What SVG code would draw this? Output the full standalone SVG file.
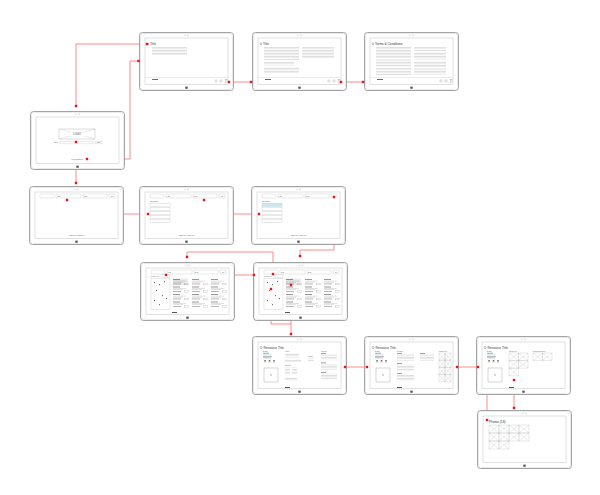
<svg xmlns="http://www.w3.org/2000/svg" xmlns:xlink="http://www.w3.org/1999/xlink" width="600" height="495" viewBox="0 0 600 495">
<style>
.fr{fill:#fff;stroke:#9a9a9a;stroke-width:0.9}
.fi{fill:none;stroke:#d6d6d6;stroke-width:0.5}
.sc{fill:#fff;stroke:#c4c4c4;stroke-width:0.5}
.fld{fill:#fff;stroke:#c0c0c0;stroke-width:0.35}
.t{font-family:"Liberation Sans",Arial,sans-serif;fill:#333}
.h{font-size:3.2px}
.s{font-size:1.5px;fill:#555}
.tx{fill:url(#tx)}
.g{fill:#c4c4c4}
.d{fill:#8a8a8a}
.cn{fill:none;stroke:#ff8080;stroke-width:0.9}
.dt{fill:#e8141c}
.xl{stroke:#c2c2c2;stroke-width:0.35;fill:none}
</style>
<defs>
<pattern id="tx" width="6" height="1.5" patternUnits="userSpaceOnUse"><rect width="6" height="0.45" fill="#c2c2c2"/></pattern>
<g id="frame">
<rect x="0.5" y="0.5" width="94" height="58" rx="3" class="fr"/>
<rect x="1.5" y="1.5" width="92" height="56" rx="2.4" class="fi"/>
<rect x="6" y="6" width="83" height="46.5" class="sc"/>
<circle cx="46" cy="3.3" r="0.45" fill="#777"/>
<circle cx="49" cy="3.3" r="0.45" fill="none" stroke="#999" stroke-width="0.3"/>
<rect x="46.3" y="54.6" width="2.4" height="2.2" fill="#555"/>
</g>
<g id="appbar">
<line x1="6" y1="45.5" x2="89" y2="45.5" stroke="#ccc" stroke-width="0.4"/>
<rect x="13" y="47" width="6" height="0.8" fill="#444"/>
<circle cx="77" cy="49" r="1.2" fill="none" stroke="#888" stroke-width="0.3"/>
<circle cx="82" cy="49" r="1.2" fill="none" stroke="#888" stroke-width="0.3"/>
<rect x="86.2" y="47.6" width="1.8" height="2.6" fill="none" stroke="#888" stroke-width="0.3"/>
</g>
<g id="xb">
<rect x="0" y="0" width="10" height="8" class="xl" vector-effect="non-scaling-stroke"/>
<path d="M0 0L10 8M10 0L0 8" class="xl" vector-effect="non-scaling-stroke"/>
</g>
<g id="hdr">
<rect x="11" y="8" width="14" height="4" rx="1" class="fld"/>
<rect x="27" y="8" width="25" height="4" class="fld"/>
<text x="28" y="10.6" class="t s">Find:</text>
<rect x="54" y="8" width="24" height="4" class="fld"/>
<text x="55" y="10.6" class="t s">Near:</text>
<rect x="80" y="8" width="6" height="4" class="fld"/>
<text x="83" y="10.6" class="t s" text-anchor="middle">Go</text>
</g>
<g id="foot">
<text x="47.5" y="49.5" class="t s" text-anchor="middle">ABOUT US | CONTACT</text>
</g>
<g id="ri">
<rect x="0" y="0" width="7" height="1" fill="#999"/>
<rect x="0" y="1.8" width="13" height="0.5" class="g"/>
<rect x="0" y="2.9" width="10" height="0.5" class="g"/>
<rect x="0" y="4.6" width="8" height="0.7" fill="#999"/>
<rect x="11.5" y="4.2" width="4" height="1.7" fill="#fff" stroke="#aaa" stroke-width="0.3"/>
</g>
<g id="res">
<use href="#hdr"/>
<text x="11" y="15" class="t s">Results (24)</text>
<rect x="22" y="12.8" width="8" height="2.8" class="fld"/>
<rect x="11" y="16.5" width="19" height="31" fill="#fff" stroke="#c8c8c8" stroke-width="0.4"/>
<g fill="#666">
<rect x="14" y="20" width="0.9" height="1.2"/><rect x="19" y="22" width="0.9" height="1.2"/>
<rect x="24" y="19" width="0.9" height="1.2"/><rect x="16" y="28" width="0.9" height="1.2"/>
<rect x="22" y="33" width="0.9" height="1.2"/><rect x="14" y="38" width="0.9" height="1.2"/>
<rect x="19" y="42" width="0.9" height="1.2"/><rect x="26" y="36" width="0.9" height="1.2"/>
</g>
<use href="#ri" x="33" y="17"/><use href="#ri" x="52" y="17"/><use href="#ri" x="71" y="17"/>
<use href="#ri" x="33" y="24.5"/><use href="#ri" x="52" y="24.5"/><use href="#ri" x="71" y="24.5"/>
<use href="#ri" x="33" y="32"/><use href="#ri" x="52" y="32"/><use href="#ri" x="71" y="32"/>
<use href="#ri" x="33" y="39.5"/><use href="#ri" x="52" y="39.5"/><use href="#ri" x="71" y="39.5"/>
<rect x="32" y="50" width="5" height="0.9" fill="#444"/>
</g>
<g id="det">
<text x="11" y="15.5" class="t s">Details</text>
<rect x="11" y="16.8" width="6" height="1" fill="#5cc6e6"/>
<rect x="11" y="18.6" width="8" height="0.6" class="g"/>
<rect x="11" y="20.1" width="9" height="0.6" class="d"/>
<rect x="11" y="21.6" width="8" height="0.6" class="d"/>
<rect x="12.3" y="24" width="1.5" height="1.5" fill="#666"/>
<rect x="16.8" y="24" width="1.5" height="1.5" fill="#666"/>
<rect x="21.3" y="24" width="1.5" height="1.5" fill="#666"/>
<rect x="11.5" y="26.5" width="3" height="0.5" class="g"/>
<rect x="16" y="26.5" width="3" height="0.5" class="g"/>
<rect x="20.5" y="26.5" width="3" height="0.5" class="g"/>
<rect x="12" y="32" width="14" height="14" fill="none" stroke="#999" stroke-width="0.4"/>
<path d="M18.3 39h1.4M19 38.3v1.4" stroke="#555" stroke-width="0.4"/>
<circle cx="9" cy="11.5" r="1.1" fill="none" stroke="#555" stroke-width="0.35"/>
<text x="11.5" y="12.6" class="t h">Resource Title</text>
<rect x="33" y="51" width="5" height="0.9" fill="#444"/>
</g>
</defs>

<g id="connectors">
<polyline class="cn" points="76,106 76,44 147,44"/>
<polyline class="cn" points="87,159 130,159 130,61 139,61"/>
<polyline class="cn" points="76,142 76,183"/>
<polyline class="cn" points="229,82 251,82"/>
<polyline class="cn" points="341,82 363,82"/>
<polyline class="cn" points="67,200 67,214 148,214"/>
<polyline class="cn" points="204,200 204,214 259,214"/>
<polyline class="cn" points="334,197 334,250 300,250 300,256"/>
<polyline class="cn" points="273,274 273,252 187,252 187,257"/>
<polyline class="cn" points="166,275 254,275"/>
<polyline class="cn" points="291,285 291,334"/>
<polyline class="cn" points="271,289 271,324 291,324"/>
<polyline class="cn" points="345,367 367,367"/>
<polyline class="cn" points="457,367 478,367"/>
<polyline class="cn" points="514,380 514,408"/>
<polyline class="cn" points="487,395 487,420"/>
</g>

<g id="node-title1" transform="translate(139,32)">
<use href="#frame"/>
<rect x="7.5" y="11" width="2" height="2" class="d"/>
<text x="11" y="13" class="t h">Title</text>
<rect x="13" y="15" width="35" height="8" class="tx"/>
<use href="#appbar"/>
</g>

<g id="node-title2" transform="translate(252,32)">
<use href="#frame"/>
<circle cx="9" cy="11.8" r="1" fill="none" stroke="#555" stroke-width="0.35"/>
<text x="11" y="13" class="t h">Title</text>
<rect x="12" y="15" width="35" height="13" class="tx"/>
<rect x="12" y="29.5" width="30" height="4" class="tx"/>
<rect x="12" y="35" width="35" height="6" class="tx"/>
<rect x="50" y="15" width="32" height="11" class="tx"/>
<use href="#appbar"/>
</g>

<g id="node-terms" transform="translate(364,32)">
<use href="#frame"/>
<circle cx="9" cy="11.8" r="1" fill="none" stroke="#555" stroke-width="0.35"/>
<text x="11" y="13" class="t h">Terms &amp; Conditions</text>
<rect x="12" y="15" width="35" height="11" class="tx"/>
<rect x="12" y="27.5" width="35" height="7" class="tx"/>
<rect x="12" y="36" width="35" height="7" class="tx"/>
<rect x="50" y="15" width="32" height="4" class="tx"/>
<rect x="50" y="20.5" width="32" height="7" class="tx"/>
<rect x="50" y="29" width="32" height="6" class="tx"/>
<rect x="50" y="36.5" width="32" height="6" class="tx"/>
<use href="#appbar"/>
</g>

<g id="node-login" transform="translate(30,111)">
<use href="#frame"/>
<rect x="29" y="18" width="36" height="10" fill="#fff" stroke="#aaa" stroke-width="0.4"/>
<path d="M29 18L65 28M65 18L29 28" class="xl"/>
<rect x="40" y="21.5" width="14" height="3.5" fill="#fff"/>
<text x="47" y="24.3" class="t" font-size="2.6" text-anchor="middle">LOGO</text>
<text x="24" y="32.3" class="t s">Name</text>
<rect x="30" y="30.3" width="33" height="2.6" class="fld"/>
<rect x="65" y="30.3" width="7" height="2.6" class="fld"/>
<text x="68.5" y="32.1" class="t s" text-anchor="middle">Login</text>
<text x="47" y="48.6" class="t s" text-anchor="middle">Forgot password</text>
</g>

<g id="node-search1" transform="translate(29,186)">
<use href="#frame"/>
<use href="#hdr"/>
<use href="#foot"/>
</g>

<g id="node-search2" transform="translate(139,186)">
<use href="#frame"/>
<use href="#hdr"/>
<text x="11" y="16.2" class="t s">Suggestions</text>
<rect x="11" y="17.3" width="20" height="3" class="fld"/>
<rect x="11" y="21.3" width="20" height="3" class="fld"/>
<rect x="11" y="25.3" width="20" height="3" class="fld"/>
<rect x="11" y="29.3" width="20" height="3" class="fld"/>
<rect x="11" y="33.3" width="20" height="3" class="fld"/>
<use href="#foot"/>
</g>

<g id="node-search3" transform="translate(251,186)">
<use href="#frame"/>
<use href="#hdr"/>
<text x="11" y="16.2" class="t s">Suggestions</text>
<rect x="11" y="17.3" width="20" height="3" fill="#bfeaf6" stroke="#c0c0c0" stroke-width="0.35"/>
<rect x="11" y="21.3" width="20" height="3" class="fld"/>
<rect x="11" y="25.3" width="20" height="3" class="fld"/>
<rect x="11" y="29.3" width="20" height="3" class="fld"/>
<rect x="11" y="33.3" width="20" height="3" class="fld"/>
<use href="#foot"/>
</g>

<g id="node-results1" transform="translate(140,262)">
<use href="#frame"/>
<use href="#res"/>
<rect x="32.5" y="16.5" width="15.5" height="6.8" fill="#000" fill-opacity="0.08"/>
</g>

<g id="node-results2" transform="translate(253,262)">
<use href="#frame"/>
<use href="#res"/>
<rect x="32.5" y="16.5" width="15.5" height="6.8" fill="#000" fill-opacity="0.08"/>
</g>

<g id="node-resource1" transform="translate(252,336)">
<use href="#frame"/>
<use href="#det"/>
<text x="33" y="15.5" class="t s">Hours</text>
<rect x="33" y="17" width="14" height="4.5" class="tx"/>
<rect x="33" y="23" width="16" height="3" class="tx"/>
<text x="33" y="30" class="t s">Services</text>
<rect x="33" y="31.2" width="5" height="7.5" class="tx"/>
<rect x="40" y="31.2" width="5" height="7.5" class="tx"/>
<rect x="33" y="41" width="12" height="4" class="tx"/>
<text x="56" y="21" class="t s">Nearby</text>
<rect x="56" y="22.2" width="6" height="3" class="tx"/>
<text x="69" y="15.5" class="t s">Reviews</text>
<rect x="69" y="17" width="5" height="0.8" class="d"/>
<rect x="69" y="18.6" width="16" height="5.5" class="tx"/>
<rect x="69" y="26.5" width="5" height="0.8" class="d"/>
<rect x="69" y="28.1" width="16" height="5.5" class="tx"/>
<rect x="69" y="36" width="5" height="0.8" class="d"/>
<rect x="69" y="37.6" width="16" height="5.5" class="tx"/>
</g>

<g id="node-resource2" transform="translate(364,336)">
<use href="#frame"/>
<use href="#det"/>
<text x="33" y="15.5" class="t s">Reviews</text>
<rect x="33" y="17" width="5" height="0.8" class="d"/>
<rect x="33" y="18.6" width="17" height="6" class="tx"/>
<rect x="33" y="27" width="5" height="0.8" class="d"/>
<rect x="33" y="28.6" width="17" height="6" class="tx"/>
<rect x="33" y="37" width="5" height="0.8" class="d"/>
<rect x="33" y="38.6" width="17" height="6" class="tx"/>
<rect x="56" y="17" width="5" height="0.8" class="d"/>
<rect x="56" y="18.6" width="14" height="6" class="tx"/>
<text x="75" y="15.5" class="t s">Photos (18)</text>
<use href="#xb" transform="translate(75,17) scale(0.6,0.9)"/>
<use href="#xb" transform="translate(81,17) scale(0.6,0.9)"/>
<use href="#xb" transform="translate(75,24.2) scale(0.6,0.9)"/>
<use href="#xb" transform="translate(81,24.2) scale(0.6,0.9)"/>
<use href="#xb" transform="translate(75,31.4) scale(0.6,0.9)"/>
<use href="#xb" transform="translate(81,31.4) scale(0.6,0.9)"/>
<use href="#xb" transform="translate(75,38.6) scale(0.6,0.9)"/>
<use href="#xb" transform="translate(81,38.6) scale(0.6,0.9)"/>
</g>

<g id="node-resource3" transform="translate(476,336)">
<use href="#frame"/>
<use href="#det"/>
<text x="33" y="15.5" class="t s">Photos (18)</text>
<use href="#xb" transform="translate(33,17) scale(0.95,0.95)"/>
<use href="#xb" transform="translate(42.5,17) scale(0.95,0.95)"/>
<use href="#xb" transform="translate(33,24.6) scale(0.95,0.95)"/>
<use href="#xb" transform="translate(42.5,24.6) scale(0.95,0.95)"/>
<use href="#xb" transform="translate(33,32.2) scale(0.95,0.95)"/>
<text x="57" y="15.5" class="t s">Nearby Resources</text>
<use href="#xb" transform="translate(57,17) scale(0.95,0.95)"/>
<use href="#xb" transform="translate(66.5,17) scale(0.95,0.95)"/>
</g>

<g id="node-photos" transform="translate(477,410)">
<use href="#frame"/>
<text x="12" y="12.5" class="t h">Photos (18)</text>
<use href="#xb" transform="translate(12,15)"/>
<use href="#xb" transform="translate(22,15)"/>
<use href="#xb" transform="translate(32,15)"/>
<use href="#xb" transform="translate(42,15)"/>
<use href="#xb" transform="translate(12,23)"/>
<use href="#xb" transform="translate(22,23)"/>
<use href="#xb" transform="translate(32,23)"/>
<use href="#xb" transform="translate(42,23)"/>
<use href="#xb" transform="translate(12,31)"/>
<use href="#xb" transform="translate(22,31)"/>
</g>

<g id="connector-dots" class="dt">
<rect x="74.8" y="104.8" width="2.4" height="2.4"/>
<rect x="145.8" y="42.8" width="2.4" height="2.4"/>
<rect x="85.8" y="157.8" width="2.4" height="2.4"/>
<rect x="137.3" y="59.8" width="2.4" height="2.4"/>
<rect x="74.8" y="140.8" width="2.4" height="2.4"/>
<rect x="74.8" y="181.8" width="2.4" height="2.4"/>
<rect x="227.8" y="80.8" width="2.4" height="2.4"/>
<rect x="249.8" y="80.8" width="2.4" height="2.4"/>
<rect x="339.8" y="80.8" width="2.4" height="2.4"/>
<rect x="361.8" y="80.8" width="2.4" height="2.4"/>
<rect x="65.8" y="198.8" width="2.4" height="2.4"/>
<rect x="146.8" y="212.8" width="2.4" height="2.4"/>
<rect x="202.8" y="198.8" width="2.4" height="2.4"/>
<rect x="257.8" y="212.8" width="2.4" height="2.4"/>
<rect x="332.8" y="195.8" width="2.4" height="2.4"/>
<rect x="298.8" y="254.8" width="2.4" height="2.4"/>
<rect x="271.8" y="272.8" width="2.4" height="2.4"/>
<rect x="185.8" y="255.8" width="2.4" height="2.4"/>
<rect x="164.8" y="273.8" width="2.4" height="2.4"/>
<rect x="252.8" y="273.8" width="2.4" height="2.4"/>
<rect x="289.8" y="283.8" width="2.4" height="2.4"/>
<rect x="289.8" y="332.8" width="2.4" height="2.4"/>
<rect x="269.8" y="287.8" width="2.4" height="2.4"/>
<rect x="343.8" y="365.8" width="2.4" height="2.4"/>
<rect x="365.8" y="365.8" width="2.4" height="2.4"/>
<rect x="455.8" y="365.8" width="2.4" height="2.4"/>
<rect x="476.8" y="365.8" width="2.4" height="2.4"/>
<rect x="512.8" y="378.8" width="2.4" height="2.4"/>
<rect x="512.8" y="406.8" width="2.4" height="2.4"/>
<rect x="485.8" y="418.8" width="2.4" height="2.4"/>
</g>
</svg>
